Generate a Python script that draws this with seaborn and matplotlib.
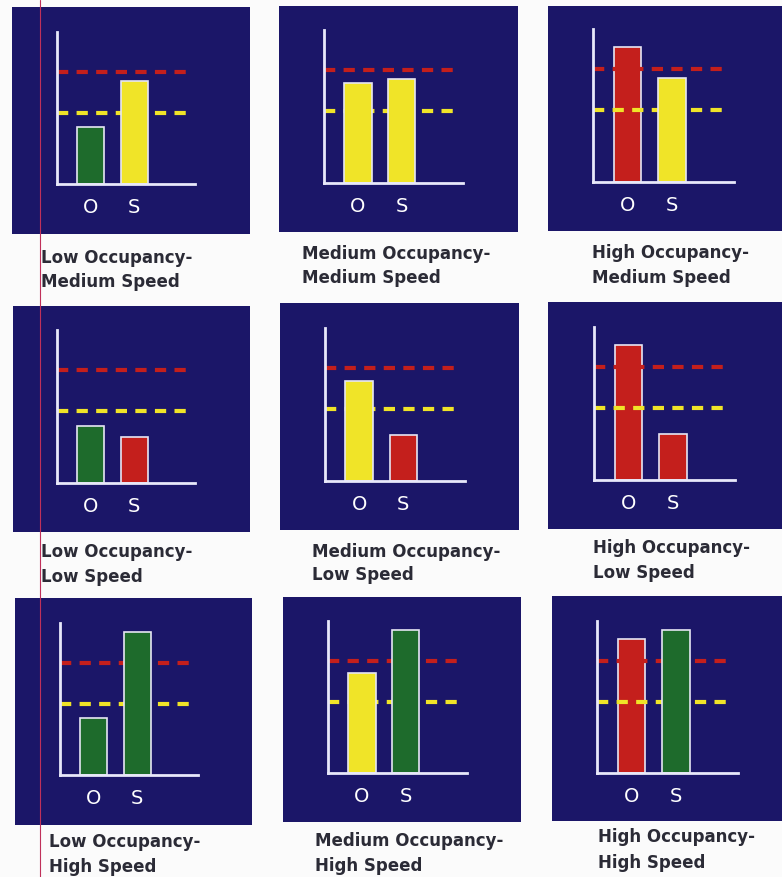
import matplotlib
matplotlib.use("Agg")
import matplotlib.pyplot as plt
from matplotlib.lines import Line2D
import pandas as pd
import seaborn as sns

# levels (axis height = 100)
occupancy_names = ["Low", "Medium", "High"]
occupancy_heights = [37.5, 65.5, 88]
speed_names = ["Medium", "Low", "High"]
speed_heights = [68, 30, 94]
red_limit = 74
yellow_limit = 47
bar_labels = ["O", "S"]

occ_colors = {"Low": "green", "Medium": "yellow", "High": "red"}
speed_colors = {"Low": "red", "Medium": "yellow", "High": "green"}
rgb = {"green": "#1e6b2c", "yellow": "#f0e428", "red": "#c41f1c"}

NAVY = "#1b1668"
W, H = 782, 877

# panel boxes and inner axis boxes in picture pixels (x0, y0, x1, y1)
panels = [
    [(12, 7, 250, 234), (279, 6, 518, 232), (548, 6, 782, 231)],
    [(13, 306, 250, 532), (280, 303, 519, 530), (548, 302, 782, 529)],
    [(15, 598, 252, 825), (283, 597, 521, 822), (552, 596, 782, 821)],
]
inner = [
    [(57, 32, 195, 184), (324, 30, 463, 183), (593, 29, 734, 182)],
    [(57, 330, 195, 483), (325, 328, 465, 481), (594, 327, 735, 480)],
    [(60, 623, 198, 775), (328, 621, 467, 773), (597, 621, 738, 773)],
]
# caption left x, first baseline, second baseline
captions = [
    [(41, 263, 287), (302, 259, 283), (592, 258, 283)],
    [(41, 557, 582), (312, 557, 580), (593, 553, 578)],
    [(49, 847, 872), (315, 846, 871), (598, 842, 868)],
]


def rect(box):
    x0, y0, x1, y1 = box
    return [x0 / W, 1 - y1 / H, (x1 - x0) / W, (y1 - y0) / H]


sns.set_theme(style="white")
plt.rcParams["font.family"] = ["DejaVu Sans"]

fig = plt.figure(figsize=(W / 100, H / 100), dpi=100)
fig.patch.set_facecolor("#fbfbfb")

for r, speed in enumerate(speed_names):
    for c, occ in enumerate(occupancy_names):
        bg = fig.add_axes(rect(panels[r][c]))
        bg.set_facecolor(NAVY)
        bg.set_xticks([])
        bg.set_yticks([])
        for s in bg.spines.values():
            s.set_visible(False)

        ax = fig.add_axes(rect(inner[r][c]))
        ax.set_facecolor("none")
        df = pd.DataFrame({"bar": bar_labels,
                           "value": [occupancy_heights[c], speed_heights[r]]})
        cols = [occ_colors[occ], speed_colors[speed]]
        pal = {b: rgb[k] for b, k in zip(bar_labels, cols)}
        sns.barplot(data=df, x="bar", y="value", hue="bar", palette=pal,
                    legend=False, width=0.62, saturation=1, ax=ax,
                    edgecolor="#e6e6f4", linewidth=1.2)
        # red bars sit under the guide lines, the others above
        for patch, k in zip(ax.patches, cols):
            patch.set_zorder(1 if k == "red" else 3)

        dash = (0, (2.7, 2.0))
        ax.axhline(red_limit, xmin=0, xmax=0.955, color="#c41f1c", lw=3, ls=dash, zorder=2)
        ax.axhline(yellow_limit, xmin=0, xmax=0.955, color="#f0e428", lw=3, ls=dash, zorder=2)

        ax.set_xlim(-0.77, 2.39)
        ax.set_ylim(0, 100)
        ax.set_xlabel("")
        ax.set_ylabel("")
        ax.set_yticks([])
        ax.tick_params(axis="x", length=0, pad=10, labelsize=14, labelcolor="white")
        for side in ["top", "right"]:
            ax.spines[side].set_visible(False)
        for side in ["left", "bottom"]:
            ax.spines[side].set_color("#e8e8fa")
            ax.spines[side].set_linewidth(2)
            ax.spines[side].set_zorder(4)

        lx, b1, b2 = captions[r][c]
        fig.text(lx / W, 1 - b1 / H, occ + " Occupancy-", fontsize=12,
                 fontweight="bold", color="#2b2b36", ha="left", va="baseline")
        fig.text(lx / W, 1 - b2 / H, speed + " Speed", fontsize=12,
                 fontweight="bold", color="#2b2b36", ha="left", va="baseline")

# thin scan line running down the left column
fig.add_artist(Line2D([40 / W, 40 / W], [0, 1], color="#c0305a", lw=0.8, zorder=10))

fig.savefig("out.png", dpi=100, facecolor=fig.get_facecolor())
